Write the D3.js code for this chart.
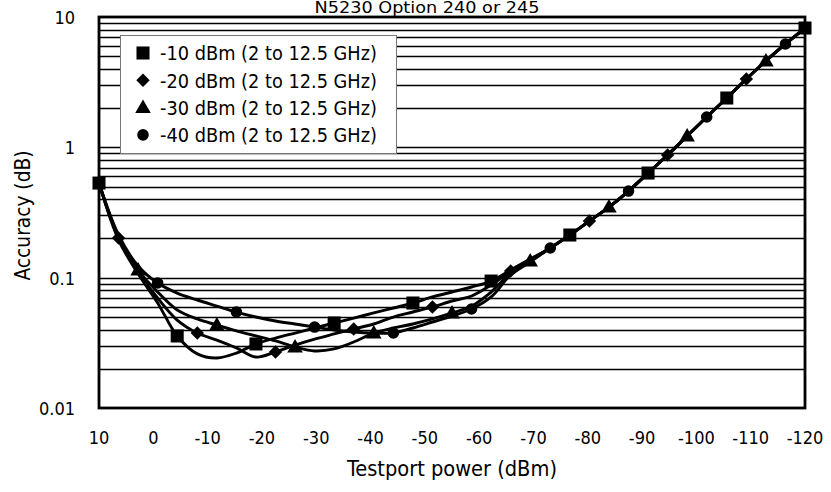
<!DOCTYPE html>
<html>
<head>
<meta charset="utf-8">
<script src="https://cdn.jsdelivr.net/npm/d3@7"></script>
<style>
  body { margin: 0; background: #fff; }
  svg text { font-family: "Liberation Sans Narrow", "DejaVu Sans Condensed", "Roboto Condensed", sans-serif; font-stretch: condensed; fill: #000; }
</style>
</head>
<body>
<svg id="chart" width="831" height="492"></svg>
<script>
// testport power (dBm) of every sample
const powers = [10, 6.4, 2.8, -0.8, -4.4, -8.1, -11.7, -15.3, -18.9, -22.5, -26.1, -29.7, -33.3,
  -36.9, -40.6, -44.2, -47.8, -51.4, -55.0, -58.6, -62.2, -65.8, -69.4, -73.1, -76.7, -80.3,
  -83.9, -87.5, -91.1, -94.7, -98.3, -101.9, -105.6, -109.2, -112.8, -116.4, -120];

// accuracy (dB) for each IF level
const accM10 = [0.532, 0.195, 0.107, 0.064, 0.0357, 0.026, 0.0242, 0.0264, 0.031, 0.0344, 0.0376,
  0.0411, 0.0449, 0.049, 0.0536, 0.0585, 0.0639, 0.0711, 0.0776, 0.0848, 0.0942, 0.1145, 0.139,
  0.169, 0.2125, 0.272, 0.348, 0.462, 0.635, 0.874, 1.22, 1.71, 2.39, 3.34, 4.6, 6.21, 8.23];
const accM20 = [0.532, 0.2015, 0.1105, 0.0698, 0.0473, 0.0376, 0.0332, 0.0289, 0.0246, 0.0269, 0.0304,
  0.0338, 0.037, 0.0404, 0.0441, 0.0499, 0.0545, 0.0596, 0.0662, 0.0723, 0.0878, 0.1125, 0.1366,
  0.169, 0.2125, 0.272, 0.348, 0.462, 0.635, 0.874, 1.22, 1.71, 2.39, 3.34, 4.6, 6.21, 8.23];
const accM30 = [0.532, 0.2051, 0.1145, 0.0776, 0.0565, 0.0482, 0.0433, 0.039, 0.0357, 0.0327, 0.0294,
  0.0274, 0.0284, 0.0321, 0.0376, 0.0411, 0.0441, 0.0482, 0.0536, 0.0606, 0.0776, 0.1086, 0.1342,
  0.169, 0.2125, 0.272, 0.348, 0.462, 0.635, 0.874, 1.22, 1.71, 2.39, 3.34, 4.6, 6.21, 8.23];
const accM40 = [0.532, 0.2125, 0.1229, 0.091, 0.0762, 0.0674, 0.0606, 0.0545, 0.0499, 0.0465, 0.0441,
  0.0418, 0.0397, 0.0383, 0.0376, 0.0376, 0.0411, 0.0457, 0.0508, 0.0575, 0.0711, 0.1048, 0.1319,
  0.169, 0.2125, 0.272, 0.348, 0.462, 0.635, 0.874, 1.22, 1.71, 2.39, 3.34, 4.6, 6.21, 8.23];

const seriesNames = ["-10 dBm (2 to 12.5 GHz)", "-20 dBm (2 to 12.5 GHz)",
  "-30 dBm (2 to 12.5 GHz)", "-40 dBm (2 to 12.5 GHz)"];
const markerTypes = ["square", "diamond", "triangle", "circle"];
const xTickValues = [10, 0, -10, -20, -30, -40, -50, -60, -70, -80, -90, -100, -110, -120];
const yTickValues = [0.01, 0.1, 1, 10];
const yTickLabels = ["0.01", "0.1", "1", "10"];
const chartTitle = "N5230 Option 240 or 245";
const xTitle = "Testport power (dBm)";
const yTitle = "Accuracy (dB)";

const allSeries = [accM10, accM20, accM30, accM40].map((vals, s) => ({
  name: seriesNames[s],
  marker: markerTypes[s],
  points: vals.map((v, i) => ({ p: powers[i], v: v, i: i }))
}));

const margin = { top: 17, right: 26, bottom: 84, left: 99 };
const width = 831, height = 492;
const svg = d3.select("#chart");

const x = d3.scaleLinear().domain([10, -120]).range([margin.left, width - margin.right]);
const y = d3.scaleLog().domain([0.01, 10]).range([height - margin.bottom, margin.top]);

// horizontal log gridlines
const gridVals = [];
[0.01, 0.1, 1].forEach(d => { for (let k = 1; k <= 9; k++) gridVals.push(+(d * k).toPrecision(2)); });
svg.append("g")
  .selectAll("line")
  .data(gridVals.filter(v => v > 0.01))
  .join("line")
  .attr("x1", x(10)).attr("x2", x(-120))
  .attr("y1", d => Math.round(y(d)) + 0.5).attr("y2", d => Math.round(y(d)) + 0.5)
  .attr("stroke", "#000").attr("stroke-width", 1.3);

// plot frame
svg.append("rect")
  .attr("x", x(10)).attr("y", y(10))
  .attr("width", x(-120) - x(10)).attr("height", y(0.01) - y(10))
  .attr("fill", "none").attr("stroke", "#000").attr("stroke-width", 2.8);

// lines
const line = d3.line()
  .x(d => x(d.p))
  .y(d => y(d.v))
  .curve(d3.curveCatmullRom.alpha(0.5));

svg.append("g")
  .selectAll("path")
  .data(allSeries)
  .join("path")
  .attr("d", d => line(d.points))
  .attr("fill", "none")
  .attr("stroke", "#000")
  .attr("stroke-width", 2.9);

function symbolPath(type) {
  if (type === "square") return d3.symbol(d3.symbolSquare, 170)();
  if (type === "diamond") return d3.symbol(d3.symbolSquare, 90)();
  if (type === "triangle") return d3.symbol(d3.symbolTriangle, 105)();
  return d3.symbol(d3.symbolCircle, 105)();
}
function symbolTransform(type, px, py) {
  if (type === "diamond") return `translate(${px},${py}) rotate(45)`;
  if (type === "triangle") return `translate(${px},${py + 1})`;
  return `translate(${px},${py})`;
}

// markers every 4th sample, offset per series
const markerG = svg.append("g");
allSeries.slice().reverse().forEach((s, r) => {
  const si = 3 - r;
  markerG.append("g")
    .selectAll("path")
    .data(s.points.filter(d => d.i % 4 === si))
    .join("path")
    .attr("d", symbolPath(s.marker))
    .attr("transform", d => symbolTransform(s.marker, x(d.p), y(d.v)))
    .attr("fill", "#000");
});

// y tick labels
svg.append("g")
  .selectAll("text")
  .data(yTickValues)
  .join("text")
  .attr("x", 75)
  .attr("y", d => y(d))
  .attr("dy", "0.38em")
  .attr("text-anchor", "end")
  .attr("font-size", 18)
  .text((d, i) => yTickLabels[i]);

// x tick labels
svg.append("g")
  .selectAll("text")
  .data(xTickValues)
  .join("text")
  .attr("x", d => x(d))
  .attr("y", 444)
  .attr("text-anchor", "middle")
  .attr("font-size", 18)
  .text(d => d);

// titles
svg.append("text")
  .attr("x", 427).attr("y", 13)
  .attr("text-anchor", "middle")
  .attr("font-size", 15)
  .attr("textLength", 225).attr("lengthAdjust", "spacingAndGlyphs")
  .text(chartTitle);

svg.append("text")
  .attr("x", (x(10) + x(-120)) / 2).attr("y", 476)
  .attr("text-anchor", "middle")
  .attr("font-size", 21)
  .attr("textLength", 210).attr("lengthAdjust", "spacingAndGlyphs")
  .text(xTitle);

svg.append("text")
  .attr("transform", `translate(30, ${(y(10) + y(0.01)) / 2 + 3}) rotate(-90)`)
  .attr("text-anchor", "middle")
  .attr("font-size", 21)
  .attr("textLength", 130).attr("lengthAdjust", "spacingAndGlyphs")
  .text(yTitle);

// legend
const legend = svg.append("g");
legend.append("rect")
  .attr("x", 120.5).attr("y", 35.5)
  .attr("width", 276).attr("height", 118)
  .attr("fill", "#fff").attr("stroke", "#777").attr("stroke-width", 1);

const rows = legend.selectAll("g.row")
  .data(allSeries)
  .join("g")
  .attr("class", "row")
  .attr("transform", (d, i) => `translate(0, ${53 + i * 27.3})`);

rows.append("path")
  .attr("d", d => symbolPath(d.marker))
  .attr("transform", d => symbolTransform(d.marker, 143, 0))
  .attr("fill", "#000");

rows.append("text")
  .attr("x", 160)
  .attr("dy", "0.38em")
  .attr("font-size", 19)
  .attr("textLength", 217).attr("lengthAdjust", "spacingAndGlyphs")
  .text(d => d.name);
</script>
</body>
</html>
